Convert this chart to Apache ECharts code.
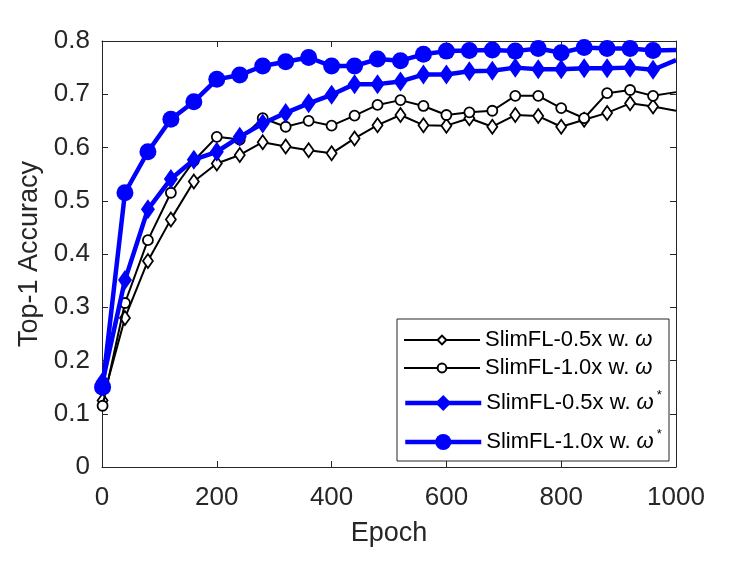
<!DOCTYPE html>
<html lang="en">
<head>
    <meta charset="UTF-8">
    <title>SlimFL Top-1 Accuracy</title>
    <script src="https://cdn.jsdelivr.net/npm/echarts@6/dist/echarts.min.js"></script>
    <style>
        html, body { margin: 0; padding: 0; background: #fff; }
        #chart { width: 747px; height: 561px; }
    </style>
</head>
<body>
<div id="chart"></div>
<script type="text/javascript">
    // epochs of each recorded point
    var epochs = [1, 40, 80, 120, 160, 200, 240, 280, 320, 360, 400, 440, 480, 520,
        560, 600, 640, 680, 720, 760, 800, 840, 880, 920, 960, 1000];

    var half_w = [0.125, 0.280, 0.387, 0.465, 0.536, 0.570, 0.586, 0.610, 0.602, 0.595, 0.589, 0.617, 0.642,
        0.661, 0.642, 0.641, 0.655, 0.639, 0.661, 0.659, 0.639, 0.652, 0.665, 0.683, 0.677, 0.669];
    var full_w = [0.115, 0.308, 0.426, 0.515, 0.575, 0.620, 0.615, 0.655, 0.639, 0.650, 0.641, 0.660, 0.680,
        0.689, 0.678, 0.661, 0.666, 0.669, 0.697, 0.697, 0.674, 0.655, 0.702, 0.708, 0.697, 0.704];
    var half_ws = [0.160, 0.351, 0.484, 0.541, 0.577, 0.592, 0.620, 0.645, 0.665, 0.683, 0.699, 0.719, 0.719,
        0.724, 0.737, 0.737, 0.743, 0.744, 0.750, 0.747, 0.747, 0.749, 0.749, 0.750, 0.746, 0.764];
    var full_ws = [0.150, 0.515, 0.592, 0.653, 0.686, 0.728, 0.736, 0.753, 0.761, 0.769, 0.753, 0.753, 0.766,
        0.763, 0.775, 0.781, 0.782, 0.783, 0.781, 0.786, 0.778, 0.788, 0.786, 0.786, 0.782, 0.783];

    var names = ['SlimFL-0.5x w. ω', 'SlimFL-1.0x w. ω', 'SlimFL-0.5x w. ω*', 'SlimFL-1.0x w. ω*'];
    var xTicks = [0, 200, 400, 600, 800, 1000];
    var yTicks = [0, 0.1, 0.2, 0.3, 0.4, 0.5, 0.6, 0.7, 0.8];

    var font = "'Liberation Sans', Arial, Helvetica, sans-serif";
    var axisColor = '#262626';

    // pair epochs with values; the last point (epoch 1000) has no marker in the original
    function pts(vals) {
        var out = [];
        for (let i = 0; i < vals.length; i++) {
            if (i === vals.length - 1) {
                out.push({ value: [epochs[i], vals[i]], symbol: 'none' });
            } else {
                out.push([epochs[i], vals[i]]);
            }
        }
        return out;
    }

    function xAxisCfg(pos) {
        return {
            type: 'value', position: pos,
            min: xTicks[0], max: xTicks[xTicks.length - 1], interval: xTicks[1] - xTicks[0],
            axisLine: { show: true, onZero: false, lineStyle: { color: axisColor, width: 1 } },
            axisTick: { show: true, inside: true, length: 6, lineStyle: { color: axisColor } },
            axisLabel: {
                show: pos === 'bottom', color: axisColor, fontSize: 26, fontFamily: font, margin: 18,
                formatter: function (v) { return String(v); }
            },
            splitLine: { show: false }
        };
    }
    function yAxisCfg(pos) {
        return {
            type: 'value', position: pos,
            min: yTicks[0], max: yTicks[yTicks.length - 1], interval: 0.1,
            axisLine: { show: true, onZero: false, lineStyle: { color: axisColor, width: 1 } },
            axisTick: { show: true, inside: true, length: 6, lineStyle: { color: axisColor } },
            axisLabel: {
                show: pos === 'left', color: axisColor, fontSize: 26, fontFamily: font, margin: 12,
                formatter: function (v) { return v === 0 ? '0' : v.toFixed(1); }
            },
            splitLine: { show: false }
        };
    }

    var xb = xAxisCfg('bottom');
    xb.name = 'Epoch';
    xb.nameLocation = 'middle';
    xb.nameGap = 53;
    xb.nameTextStyle = { color: axisColor, fontSize: 27, fontFamily: font };
    var yl = yAxisCfg('left');
    yl.name = 'Top-1 Accuracy';
    yl.nameLocation = 'middle';
    yl.nameGap = 59;
    yl.nameTextStyle = { color: axisColor, fontSize: 27, fontFamily: font };

    function legendLabel(name) {
        var star = name.slice(-1) === '*';
        var base = star ? name.slice(0, -2) : name.slice(0, -1);
        return '{t|' + base + '}{w|ω}' + (star ? '{s|*}' : '');
    }
    var legendText = {
        rich: {
            t: { fontSize: 22, fontFamily: font, color: '#000', lineHeight: 28 },
            w: { fontSize: 22, fontFamily: font, fontStyle: 'italic', color: '#000', lineHeight: 28 },
            s: { fontSize: 13, fontFamily: font, color: '#000', lineHeight: 28, verticalAlign: 'top', padding: [0, 0, 12, 3] }
        }
    };

    var option = {
        backgroundColor: '#fff',
        animation: false,
        grid: { left: 102, right: 71, top: 41, bottom: 94 },
        xAxis: [xb, xAxisCfg('top')],
        yAxis: [yl, yAxisCfg('right')],
        // legend frame
        graphic: [{
            type: 'rect', z: 1,
            shape: { x: 397, y: 319, width: 272, height: 142 },
            style: { fill: '#fff', stroke: axisColor, lineWidth: 1 }
        }],
        legend: [
            {
                orient: 'vertical', left: 403, top: 329, padding: 0,
                itemGap: 6, itemWidth: 76, itemHeight: 11,
                lineStyle: { width: 'inherit' },
                data: [names[0], names[1]],
                formatter: legendLabel, textStyle: legendText
            },
            {
                orient: 'vertical', left: 403, top: 389, padding: 0,
                itemGap: 14, itemWidth: 76, itemHeight: 20,
                lineStyle: { width: 'inherit' },
                data: [names[2], names[3]],
                formatter: legendLabel, textStyle: legendText
            }
        ],
        series: [
            {
                name: names[0], type: 'line', data: pts(half_w), showAllSymbol: true,
                symbol: 'diamond', symbolSize: [10, 14],
                lineStyle: { color: '#000', width: 2 },
                itemStyle: { color: '#fff', borderColor: '#000', borderWidth: 1.8 },
                z: 2
            },
            {
                name: names[1], type: 'line', data: pts(full_w), showAllSymbol: true,
                symbol: 'circle', symbolSize: 10,
                lineStyle: { color: '#000', width: 2 },
                itemStyle: { color: '#fff', borderColor: '#000', borderWidth: 1.8 },
                z: 3
            },
            {
                name: names[2], type: 'line', data: pts(half_ws), showAllSymbol: true,
                symbol: 'diamond', symbolSize: [14, 20],
                lineStyle: { color: '#0000ff', width: 4.5 },
                itemStyle: { color: '#0000ff' },
                z: 4
            },
            {
                name: names[3], type: 'line', data: pts(full_ws), showAllSymbol: true,
                symbol: 'circle', symbolSize: 17,
                lineStyle: { color: '#0000ff', width: 4.5 },
                itemStyle: { color: '#0000ff' },
                z: 5
            }
        ]
    };

    var myChart = echarts.init(document.getElementById('chart'));
    myChart.setOption(option);
</script>
</body>
</html>
